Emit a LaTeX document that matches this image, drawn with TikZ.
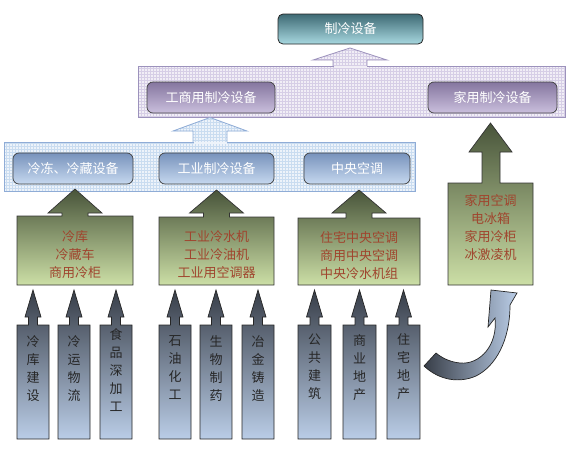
\documentclass[tikz,border=0pt]{standalone}
\usepackage{fontspec}
\setmainfont{Noto Sans CJK SC}
\usetikzlibrary{patterns}
\definecolor{txtred}{HTML}{A0452E}
\definecolor{topdark}{HTML}{3E6A74}
\definecolor{toplight}{HTML}{A8D8E0}
\definecolor{pbandfill}{HTML}{F1EEF6}
\definecolor{pbandgrid}{HTML}{D6CEE6}
\definecolor{pbandline}{HTML}{9C92BC}
\definecolor{bbandfill}{HTML}{EDF3FA}
\definecolor{bbandgrid}{HTML}{C9DCF0}
\definecolor{bbandline}{HTML}{8FACD6}
\definecolor{pdark}{HTML}{85769F}
\definecolor{plight}{HTML}{CABFDD}
\definecolor{bdark}{HTML}{7893BC}
\definecolor{blight}{HTML}{C6D8EF}
\definecolor{gdark}{HTML}{48543A}
\definecolor{glight}{HTML}{CCDFA6}
\definecolor{sdark}{HTML}{383E48}
\definecolor{slight}{HTML}{BACDE7}
\tikzset{
  cjk/.style={font=\fontsize{13}{18}\selectfont},
  topbox/.style={draw=black!85, line width=0.8pt, rounded corners=5pt, top color=topdark, bottom color=toplight, text=white, cjk, inner sep=0pt},
  pband/.style={draw=pbandline, line width=0.8pt, preaction={fill=pbandfill}, pattern=grid, pattern color=pbandgrid, inner sep=0pt},
  bband/.style={draw=bbandline, line width=0.8pt, preaction={fill=bbandfill}, pattern=grid, pattern color=bbandgrid, inner sep=0pt},
  pinner/.style={draw=black!75, line width=0.7pt, rounded corners=6pt, top color=pdark, bottom color=plight, text=white, cjk, inner sep=0pt},
  binner/.style={draw=black!75, line width=0.7pt, rounded corners=6pt, top color=bdark, bottom color=blight, text=white, cjk, inner sep=0pt},
  phollow/.style={draw=pbandline, line width=0.8pt, preaction={fill=pbandfill}, pattern=grid, pattern color=pbandgrid},
  bhollow/.style={draw=bbandline, line width=0.8pt, preaction={fill=bbandfill}, pattern=grid, pattern color=bbandgrid},
  garrow/.style={draw=black!80, line width=0.7pt, top color=gdark, bottom color=glight},
  sarrow/.style={draw=black!85, line width=0.7pt, top color=sdark, bottom color=slight},
  gtext/.style={cjk, text=txtred, align=center, inner sep=0pt},
  stext/.style={cjk, text=black!85, align=center, inner sep=0pt, anchor=north},
}
\begin{document}
\begin{tikzpicture}[x=1pt,y=-1pt]
\useasboundingbox (0,0) rectangle (578,455);

% top box
\node[topbox, minimum width=145pt, minimum height=30pt] (top) at (350.5,29) {制冷设备};

% hollow arrow from purple band to top box
\path[phollow] (333,66.5) -- (333,60) -- (313,60) -- (350,48) -- (387,60) -- (367,60) -- (367,66.5);

% purple band
\node[pband, minimum width=427pt, minimum height=51pt] (pb) at (351.5,91.5) {};
\path[fill=pbandfill] (333.5,66) rectangle (366.5,68);
\node[pinner, minimum width=128pt, minimum height=31pt] (gsy) at (211,97.5) {工商用制冷设备};
\node[pinner, minimum width=129pt, minimum height=31pt] (jy) at (492.5,97.5) {家用制冷设备};

% hollow arrow from blue band to purple band
\path[bhollow] (193,142.5) -- (193,131) -- (173,131) -- (210,117.5) -- (247,131) -- (227,131) -- (227,142.5);

% blue band
\node[bband, minimum width=411pt, minimum height=49pt] (bb) at (209.5,166.5) {};
\path[fill=bbandfill] (193.5,142) rectangle (226.5,144);
\node[binner, minimum width=120pt, minimum height=31pt] (ld) at (73,168.5) {冷冻、冷藏设备};
\node[binner, minimum width=115pt, minimum height=31pt] (gy) at (216.5,168.5) {工业制冷设备};
\node[binner, minimum width=106pt, minimum height=31pt] (zy) at (357,168.5) {中央空调};

% green block arrows
\path[garrow] (17,285) -- (17,216) -- (62,216) -- (62,213) -- (48,213) -- (75,189) -- (102,213) -- (88,213) -- (88,216) -- (133,216) -- (133,285) -- cycle;
\path[garrow] (159,285) -- (159,217) -- (203.5,217) -- (203.5,213) -- (189.5,213) -- (216.5,190) -- (243.5,213) -- (229.5,213) -- (229.5,217) -- (274,217) -- (274,285) -- cycle;
\path[garrow] (298,285) -- (298,218) -- (346,218) -- (346,213) -- (332,213) -- (359,190) -- (386,213) -- (372,213) -- (372,218) -- (420,218) -- (420,285) -- cycle;
\path[garrow] (448,285) -- (448,183) -- (482,183) -- (482,152) -- (469,152) -- (490.5,123) -- (512,152) -- (500,152) -- (500,183) -- (533,183) -- (533,285) -- cycle;

\node[gtext] (g1) at (75,254.5) {冷库\\冷藏车\\商用冷柜};
\node[gtext] (g2) at (216.5,254.5) {工业冷水机\\工业冷油机\\工业用空调器};
\node[gtext] (g3) at (359,255.5) {住宅中央空调\\商用中央空调\\中央冷水机组};
\node[gtext] (g4) at (490.5,227.5) {家用空调\\电冰箱\\家用冷柜\\冰激凌机};

% slate block arrows
\foreach \xl/\xr in {17/49, 58/90, 100/132, 159/191, 200/232, 242/274, 298/331, 343/376, 387/420}{
  \pgfmathsetmacro{\c}{(\xl+\xr)/2}
  \path[sarrow] (\xl,439) -- (\xl,325) -- (\c-4.5,325) -- (\c-4.5,317) -- (\c-8,317) -- (\c,290) -- (\c+8,317) -- (\c+4.5,317) -- (\c+4.5,325) -- (\xr,325) -- (\xr,439) -- cycle;
}
\node[stext] (s1) at (33,335) {冷\\库\\建\\设};
\node[stext] (s2) at (74,335) {冷\\运\\物\\流};
\node[stext] (s3) at (116,328) {食\\品\\深\\加\\工};
\node[stext] (s4) at (175,335) {石\\油\\化\\工};
\node[stext] (s5) at (216,335) {生\\物\\制\\药};
\node[stext] (s6) at (258,335) {冶\\金\\铸\\造};
\node[stext] (s7) at (314.5,334) {公\\共\\建\\筑};
\node[stext] (s8) at (359.5,334) {商\\业\\地\\产};
\node[stext] (s9) at (403.5,333) {住\\宅\\地\\产};

% curved arrow
\path[draw=black!85, line width=0.7pt, left color=sdark, right color=slight]
  (424,366) .. controls (440,381) and (460,383) .. (476,376)
  .. controls (496,366) and (510,340) .. (510,305)
  -- (517,293) -- (491,290) -- (488,327) -- (495,318)
  .. controls (498,345) and (480,365) .. (460,363)
  .. controls (450,362) and (442,358) .. (436,353) -- cycle;
\end{tikzpicture}
\end{document}
